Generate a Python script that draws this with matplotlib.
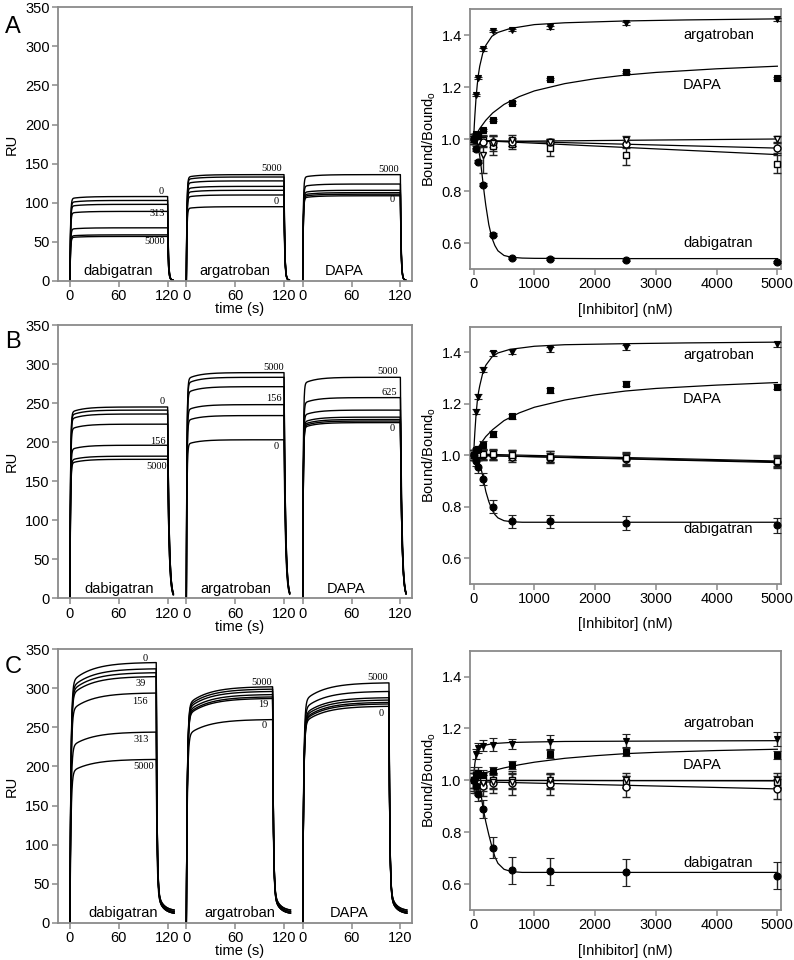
import numpy as np
import matplotlib
matplotlib.use('Agg')
import matplotlib.pyplot as plt

plt.rcParams['font.family'] = ['Liberation Sans', 'DejaVu Sans']

# ---------------- data ----------------
segment_names = ['dabigatran', 'argatroban', 'DAPA']
time_ticks = [0, 60, 120]
ru_ticks = [0, 50, 100, 150, 200, 250, 300, 350]

# sensorgram plateau levels (RU at end of association)
A_dab = [108, 103, 98, 89, 68, 59, 57]
A_arg = [136, 133, 128, 121, 116, 110, 95]
A_dapa = [136, 124, 116, 113, 111, 109]
B_dab = [245, 241, 236, 223, 196, 182, 178]
B_arg = [289, 283, 271, 248, 234, 203]
B_dapa = [283, 257, 241, 232, 229, 227, 225]
C_dab = [333, 325, 320, 315, 294, 244, 209]
C_arg = [302, 299, 296, 292, 289, 287, 260]
C_dapa = [307, 296, 288, 285, 282, 280, 277]

# concentration labels on sensorgrams
A_dab_lab = ['0', '313', '5000']
A_arg_lab = ['5000', '0']
A_dapa_lab = ['5000', '0']
B_dab_lab = ['0', '156', '5000']
B_arg_lab = ['5000', '156', '0']
B_dapa_lab = ['5000', '625', '0']
C_dab_lab = ['0', '39', '156', '313', '5000']
C_arg_lab = ['5000', '19', '0']
C_dapa_lab = ['5000', '0']

# binding ratio data
conc = [0, 39, 78, 156, 313, 625, 1250, 2500, 5000]
conc_ticks = [0, 1000, 2000, 3000, 4000, 5000]
ratio_ticks = [0.6, 0.8, 1.0, 1.2, 1.4]

A_arg_r = [1.0, 1.17, 1.235, 1.345, 1.415, 1.42, 1.43, 1.445, 1.46]
A_dapa_r = [1.0, 1.02, 1.01, 1.035, 1.073, 1.14, 1.231, 1.257, 1.234]
A_dab_r = [1.0, 0.96, 0.913, 0.824, 0.632, 0.542, 0.54, 0.536, 0.527]
A_fill_err = [0.01, 0.005, 0.005, 0.005, 0.005, 0.005, 0.005, 0.005, 0.005]
A_tri = [1.0, 0.995, 0.99, 0.94, 0.985, 0.995, 0.99, 0.995, 1.0]
A_tri_err = [0.02, 0.02, 0.02, 0.07, 0.03, 0.02, 0.01, 0.015, 0.01]
A_sq = [1.0, 1.0, 1.0, 0.995, 0.975, 0.98, 0.965, 0.94, 0.905]
A_sq_err = [0.02, 0.02, 0.015, 0.02, 0.035, 0.02, 0.03, 0.04, 0.035]
A_circ = [1.0, 1.0, 0.995, 0.99, 0.99, 0.99, 0.99, 0.98, 0.965]
A_circ_err = [0.02, 0.02, 0.02, 0.02, 0.02, 0.015, 0.01, 0.015, 0.02]

B_arg_r = [1.0, 1.169, 1.228, 1.332, 1.396, 1.403, 1.413, 1.42, 1.431]
B_dapa_r = [1.0, 1.02, 1.025, 1.04, 1.083, 1.151, 1.253, 1.279, 1.267]
B_dab_r = [1.0, 0.977, 0.955, 0.908, 0.80, 0.744, 0.744, 0.737, 0.728]
B_arg_err = [0.01, 0.01, 0.01, 0.01, 0.01, 0.01, 0.01, 0.01, 0.01]
B_dapa_err = [0.02, 0.01, 0.01, 0.015, 0.01, 0.01, 0.01, 0.01, 0.01]
B_dab_err = [0.02, 0.02, 0.025, 0.025, 0.025, 0.025, 0.025, 0.028, 0.028]
B_tri = [1.0, 1.0, 1.0, 1.0, 1.0, 1.0, 0.995, 0.985, 0.975]
B_tri_err = [0.02, 0.02, 0.02, 0.02, 0.02, 0.02, 0.02, 0.025, 0.025]
B_sq = [1.0, 1.005, 1.005, 1.005, 1.005, 1.0, 0.995, 0.988, 0.978]
B_sq_err = [0.02, 0.02, 0.02, 0.02, 0.02, 0.02, 0.02, 0.025, 0.02]
B_circ = [1.0, 1.0, 1.0, 1.0, 1.0, 0.995, 0.99, 0.985, 0.975]
B_circ_err = [0.02, 0.02, 0.02, 0.02, 0.02, 0.02, 0.02, 0.02, 0.02]

C_arg_r = [1.0, 1.102, 1.125, 1.134, 1.138, 1.141, 1.147, 1.153, 1.16]
C_dapa_r = [1.0, 1.02, 1.03, 1.02, 1.035, 1.06, 1.102, 1.108, 1.099]
C_dab_r = [1.0, 0.98, 0.949, 0.89, 0.74, 0.653, 0.65, 0.645, 0.632]
C_arg_err = [0.03, 0.02, 0.02, 0.02, 0.024, 0.02, 0.026, 0.024, 0.026]
C_dapa_err = [0.05, 0.02, 0.02, 0.02, 0.015, 0.015, 0.015, 0.015, 0.015]
C_dab_err = [0.04, 0.03, 0.03, 0.035, 0.04, 0.053, 0.052, 0.052, 0.052]
C_tri = [1.0, 1.0, 0.99, 0.99, 0.995, 0.995, 1.0, 1.0, 1.0]
C_tri_err = [0.03, 0.03, 0.03, 0.03, 0.03, 0.03, 0.03, 0.03, 0.03]
C_sq = [1.0, 1.0, 1.0, 1.0, 1.0, 1.0, 0.995, 0.995, 0.995]
C_sq_err = [0.03, 0.03, 0.03, 0.03, 0.03, 0.03, 0.03, 0.02, 0.02]
C_circ = [1.0, 0.99, 0.985, 0.98, 0.99, 0.99, 0.985, 0.975, 0.967]
C_circ_err = [0.04, 0.04, 0.04, 0.04, 0.04, 0.045, 0.04, 0.04, 0.04]

# fitted curves
arg_fit_x = [0, 10, 20, 40, 60, 80, 100, 150, 200, 300, 400, 600, 1000, 1500, 2500, 3500, 5000]
A_arg_fit = [1.0, 1.05, 1.09, 1.16, 1.21, 1.25, 1.28, 1.33, 1.36, 1.395, 1.41, 1.425, 1.44, 1.447, 1.454, 1.458, 1.462]
B_arg_fit = [1.0, 1.05, 1.09, 1.16, 1.21, 1.245, 1.27, 1.32, 1.35, 1.382, 1.398, 1.412, 1.424, 1.43, 1.434, 1.437, 1.44]
C_arg_fit = [1.0, 1.04, 1.065, 1.095, 1.11, 1.118, 1.124, 1.132, 1.136, 1.141, 1.143, 1.146, 1.148, 1.15, 1.151, 1.152, 1.153]
dapa_fit_x = [0, 50, 100, 200, 313, 500, 750, 1000, 1500, 2000, 2500, 3000, 4000, 5000]
A_dapa_fit = [1.0, 1.02, 1.04, 1.072, 1.10, 1.133, 1.163, 1.185, 1.213, 1.232, 1.246, 1.256, 1.27, 1.28]
B_dapa_fit = [1.0, 1.02, 1.04, 1.073, 1.10, 1.135, 1.165, 1.187, 1.215, 1.235, 1.25, 1.26, 1.273, 1.283]
C_dapa_fit = [1.02, 1.022, 1.025, 1.03, 1.037, 1.048, 1.06, 1.07, 1.085, 1.095, 1.103, 1.108, 1.115, 1.12]
dab_fit_x = [0, 25, 50, 75, 100, 125, 150, 175, 200, 250, 300, 350, 400, 500, 625, 800, 1000, 2000, 5000]
A_dab_fit = [1.0, 0.995, 0.985, 0.965, 0.935, 0.89, 0.84, 0.79, 0.745, 0.67, 0.62, 0.59, 0.57, 0.552, 0.545, 0.542, 0.541, 0.54, 0.54]
B_dab_fit = [1.0, 0.997, 0.99, 0.98, 0.965, 0.945, 0.92, 0.89, 0.86, 0.82, 0.79, 0.77, 0.757, 0.746, 0.742, 0.74, 0.74, 0.74, 0.74]
C_dab_fit = [1.0, 0.998, 0.993, 0.985, 0.972, 0.94, 0.90, 0.87, 0.84, 0.79, 0.745, 0.705, 0.68, 0.657, 0.648, 0.645, 0.645, 0.645, 0.645]
ctrl_fit_x = [0, 5000]
A_tri_fit = [0.99, 1.0]
A_circ_fit = [0.995, 0.965]
A_sq_fit = [0.995, 0.94]
B_tri_fit = [1.0, 0.975]
B_circ_fit = [1.0, 0.972]
B_sq_fit = [1.005, 0.978]
C_tri_fit = [1.0, 1.0]
C_circ_fit = [0.995, 0.967]
C_sq_fit = [1.0, 0.998]

# ---------------- style / layout ----------------
GRAY = '#8a8a8a'
SEG_W = 143.0
SEG_ZERO = 14.7
XMAX = 435.0
W, H = 794, 960

fig = plt.figure(figsize=(W / 100, H / 100), dpi=100)


def px_axes(left, top, right, bottom):
    return fig.add_axes([left / W, 1 - bottom / H, (right - left) / W, (bottom - top) / H])


def style_spines(ax):
    for s in ax.spines.values():
        s.set_color(GRAY)
        s.set_linewidth(1.3)
    ax.tick_params(direction='out', color=GRAY, length=4, width=1.1,
                   labelsize=10.5, labelcolor='black', pad=2)


def trace(level, t_end, t_stop, f_drift, tau_on, tau_drift, tau_off, tail_amp, tail_tau, tail_base):
    t = np.linspace(0, t_stop, 4000)
    start = level * (1 - f_drift)
    drift = (level - start) * (1 - np.exp(-t / tau_drift)) / (1 - np.exp(-t_end / tau_drift))
    assoc = start * (1 - np.exp(-t / tau_on)) + drift
    te = np.searchsorted(t, t_end)
    y_end = assoc[te]
    dt = np.clip(t - t[te], 0, None)
    diss = (y_end - tail_amp - tail_base) * np.exp(-dt / tau_off) + tail_amp * np.exp(-dt / tail_tau) + tail_base
    y = np.where(np.arange(len(t)) <= te, assoc, diss)
    return t, y


def left_panel(ax, groups, labels, label_pos, kin, name_pos):
    for k, levels in enumerate(groups):
        x0 = k * SEG_W + SEG_ZERO
        for i, L in enumerate(levels):
            p = dict(kin)
            p['tail_base'] = kin['tail_base'] + (i % 3) * kin.get('tail_spread', 0)
            p.pop('tail_spread', None)
            t, y = trace(L, **p)
            ax.plot(x0 + t, y, color='black', lw=1.0, solid_joinstyle='round')
        for txt, (tt, ru, ha) in zip(labels[k], label_pos[k]):
            ax.text(x0 + tt, ru, txt, ha=ha, va='center', fontsize=7.5,
                    family=['Liberation Serif', 'DejaVu Serif'])
        ax.text(x0 + name_pos[k][0], name_pos[k][1], segment_names[k],
                ha='center', va='center', fontsize=10.5)
    ticks, tl = [], []
    for k in range(3):
        for tv in time_ticks:
            ticks.append(k * SEG_W + SEG_ZERO + tv)
            tl.append(str(tv))
    ax.set_xticks(ticks)
    ax.set_xticklabels(tl)
    ax.set_xlim(0, XMAX)
    ax.set_ylim(0, 350)
    ax.set_yticks(ru_ticks)
    style_spines(ax)
    ax.set_ylabel('RU', fontsize=10.5)
    ax.yaxis.set_label_coords(-0.112, 0.5)


def right_panel(ax, curves, filled, controls, text_y):
    for fx, fy in curves:
        ax.plot(fx, fy, color='black', lw=0.9, zorder=2)
    ek = dict(ecolor='#222222', elinewidth=1.0, capsize=2.6, capthick=1.0, ls='none', zorder=3)
    for vals, err, m in controls:
        ax.errorbar(conc, vals, yerr=err, marker=m, ms=5.0, mfc='white', mec='black',
                    mew=1.0, **ek)
    for vals, err, m in filled:
        ax.errorbar(conc, vals, yerr=err, marker=m, ms=5.0, mfc='black', mec='black',
                    mew=0.8, **ek)
    for txt, yv in zip(['argatroban', 'DAPA', 'dabigatran'], text_y):
        ax.text(3450, yv, txt, ha='left', va='center', fontsize=10.5)
    ax.set_xlim(-60, 5060)
    ax.set_ylim(0.5, 1.5)
    ax.set_xticks(conc_ticks)
    ax.set_yticks(ratio_ticks)
    ax.set_yticklabels([f'{v:.1f}' for v in ratio_ticks])
    style_spines(ax)
    ax.set_ylabel(r'Bound/Bound$_\mathregular{o}$', fontsize=10.5)
    ax.yaxis.set_label_coords(-0.103, 0.5)


kin_A = dict(t_end=120, t_stop=126.5, f_drift=0.025, tau_on=0.7, tau_drift=15,
             tau_off=0.9, tail_amp=4, tail_tau=3, tail_base=0.5, tail_spread=0)
kin_B = dict(t_end=120, t_stop=127, f_drift=0.03, tau_on=0.7, tau_drift=15,
             tau_off=1.9, tail_amp=0, tail_tau=3, tail_base=0.0, tail_spread=0)
kin_C = dict(t_end=106, t_stop=128, f_drift=0.08, tau_on=1.2, tau_drift=25,
             tau_off=1.0, tail_amp=28, tail_tau=7, tail_base=11, tail_spread=2.0)

# label positions: (time in segment, RU, ha)
A_lab_pos = [[(115, 114, 'right'), (117, 86.6, 'right'), (117, 50.3, 'right')],
             [(117, 144, 'right'), (113, 101.4, 'right')],
             [(118, 142.8, 'right'), (113, 103.6, 'right')]]
B_lab_pos = [[(117, 251.7, 'right'), (118, 200.5, 'right'), (119, 169.4, 'right')],
             [(119.6, 295.8, 'right'), (117, 256, 'right'), (113, 195, 'right')],
             [(117.5, 290, 'right'), (116, 263, 'right'), (113.5, 217.7, 'right')]]
C_lab_pos = [[(92, 338.5, 'center'), (87, 306.5, 'center'), (86, 283, 'center'),
              (87, 234.8, 'center'), (91, 199.7, 'center')],
             [(92, 307.3, 'center'), (95, 278.7, 'center'), (96, 253, 'center')],
             [(92, 313.7, 'center'), (96, 268, 'center')]]
A_name_pos = [(59, 13), (59.4, 13), (50.5, 13)]
B_name_pos = [(60.6, 11.5), (60.2, 11.5), (53, 11.5)]
C_name_pos = [(65.5, 12.8), (65.5, 12.8), (56.9, 12.8)]

# axes boxes in pixels (left, top, right, bottom)
axA_l = px_axes(58, 7.3, 412, 281)
axB_l = px_axes(58, 325, 412, 598.3)
axC_l = px_axes(58, 649.3, 412, 922.7)
axA_r = px_axes(470, 9, 781, 269)
axB_r = px_axes(470, 326.7, 781, 584)
axC_r = px_axes(470, 650.7, 781, 910)

left_panel(axA_l, [A_dab, A_arg, A_dapa], [A_dab_lab, A_arg_lab, A_dapa_lab], A_lab_pos, kin_A, A_name_pos)
left_panel(axB_l, [B_dab, B_arg, B_dapa], [B_dab_lab, B_arg_lab, B_dapa_lab], B_lab_pos, kin_B, B_name_pos)
left_panel(axC_l, [C_dab, C_arg, C_dapa], [C_dab_lab, C_arg_lab, C_dapa_lab], C_lab_pos, kin_C, C_name_pos)
for ax in (axA_l, axB_l, axC_l):
    ax.set_xlabel('time (s)', fontsize=10.5)
    ax.xaxis.set_label_coords(0.514, -0.078)

right_panel(axA_r,
            [(arg_fit_x, A_arg_fit), (dapa_fit_x, A_dapa_fit), (dab_fit_x, A_dab_fit),
             (ctrl_fit_x, A_tri_fit), (ctrl_fit_x, A_circ_fit), (ctrl_fit_x, A_sq_fit)],
            [(A_arg_r, A_fill_err, 'v'), (A_dapa_r, A_fill_err, 's'), (A_dab_r, A_fill_err, 'o')],
            [(A_sq, A_sq_err, 's'), (A_circ, A_circ_err, 'o'), (A_tri, A_tri_err, 'v')],
            [1.4, 1.208, 0.6])
right_panel(axB_r,
            [(arg_fit_x, B_arg_fit), (dapa_fit_x, B_dapa_fit), (dab_fit_x, B_dab_fit),
             (ctrl_fit_x, B_tri_fit), (ctrl_fit_x, B_circ_fit), (ctrl_fit_x, B_sq_fit)],
            [(B_arg_r, B_arg_err, 'v'), (B_dapa_r, B_dapa_err, 's'), (B_dab_r, B_dab_err, 'o')],
            [(B_circ, B_circ_err, 'o'), (B_tri, B_tri_err, 'v'), (B_sq, B_sq_err, 's')],
            [1.391, 1.218, 0.712])
right_panel(axC_r,
            [(arg_fit_x, C_arg_fit), (dapa_fit_x, C_dapa_fit), (dab_fit_x, C_dab_fit),
             (ctrl_fit_x, C_tri_fit), (ctrl_fit_x, C_circ_fit), (ctrl_fit_x, C_sq_fit)],
            [(C_arg_r, C_arg_err, 'v'), (C_dapa_r, C_dapa_err, 's'), (C_dab_r, C_dab_err, 'o')],
            [(C_sq, C_sq_err, 's'), (C_circ, C_circ_err, 'o'), (C_tri, C_tri_err, 'v')],
            [1.223, 1.061, 0.683])
for ax in (axA_r, axB_r, axC_r):
    ax.set_xlabel('[Inhibitor] (nM)', fontsize=10.5)
    ax.xaxis.set_label_coords(0.5, -0.13)

for letter, ypx in zip(['A', 'B', 'C'], [27, 342, 667]):
    fig.text(13 / W, 1 - ypx / H, letter, fontsize=17, ha='center', va='center')

fig.savefig('out.png', dpi=100)
